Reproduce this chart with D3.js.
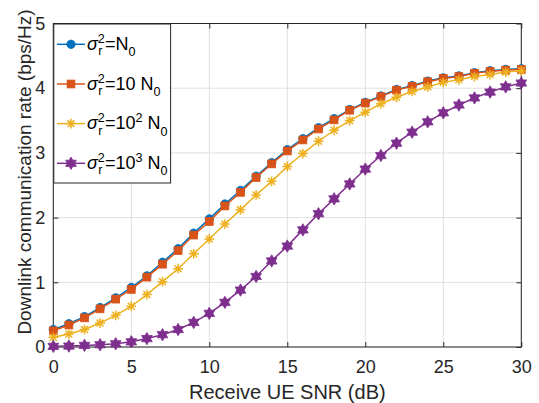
<!DOCTYPE html>
<html><head><meta charset="utf-8">
<script src="https://cdn.jsdelivr.net/npm/d3@7"></script>
<style>html,body{margin:0;padding:0;background:#fff;} svg{display:block;font-family:"Liberation Sans",Arial,Helvetica,sans-serif;}</style>
</head><body><svg id="c" width="539" height="403"></svg>
<script>
const snrDb = [0,1,2,3,4,5,6,7,8,9,10,11,12,13,14,15,16,17,18,19,20,21,22,23,24,25,26,27,28,29,30];
const rateN0 = [0.27,0.36,0.47,0.61,0.76,0.92,1.10,1.31,1.52,1.76,1.98,2.21,2.42,2.64,2.85,3.05,3.22,3.39,3.53,3.67,3.78,3.88,3.98,4.04,4.11,4.16,4.19,4.24,4.27,4.29,4.30];
const rate10N0 = [0.25,0.34,0.45,0.59,0.74,0.89,1.08,1.28,1.49,1.73,1.94,2.18,2.39,2.62,2.83,3.03,3.20,3.37,3.51,3.66,3.77,3.87,3.97,4.03,4.10,4.15,4.18,4.23,4.26,4.28,4.29];
const rate100N0 = [0.15,0.20,0.27,0.37,0.49,0.63,0.81,1.01,1.21,1.44,1.67,1.90,2.12,2.35,2.56,2.79,2.99,3.18,3.35,3.50,3.63,3.76,3.86,3.95,4.02,4.09,4.13,4.18,4.21,4.25,4.27];
const rate1000N0 = [0.01,0.015,0.025,0.035,0.05,0.08,0.13,0.19,0.27,0.38,0.52,0.69,0.88,1.09,1.33,1.56,1.81,2.06,2.29,2.52,2.75,2.96,3.15,3.32,3.48,3.62,3.74,3.85,3.94,4.02,4.08];
const xTicks = [0,5,10,15,20,25,30];
const yTicks = [0,1,2,3,4,5];
const seriesColors = ["#0072BD","#D95319","#EDB120","#7E2F8E"];
const seriesMarkers = ["circle","square","asterisk","hexagram"];
const xLabel = "Receive UE SNR (dB)";
const yLabel = "Downlink communication rate (bps/Hz)";
// legend label pieces: [kind, text]
const legendLabels = [
  [["it","σ"],["stack","2","r"],["n","=N"],["sub","0"]],
  [["it","σ"],["stack","2","r"],["n","=10\u00A0N"],["sub","0"]],
  [["it","σ"],["stack","2","r"],["n","=10"],["sup","2"],["n","\u00A0N"],["sub","0"]],
  [["it","σ"],["stack","2","r"],["n","=10"],["sup","3"],["n","\u00A0N"],["sub","0"]]
];

const series = [rateN0, rate10N0, rate100N0, rate1000N0];
const axisColor = "#262626";
const svg = d3.select("#c");
const L = 53.3, R = 521.3, T = 23.5, B = 347;
const x = d3.scaleLinear().domain([0,30]).range([L,R]);
const y = d3.scaleLinear().domain([0,5]).range([B,T]);
const fmt = d3.format("d");

// grid
const grid = svg.append("g").attr("stroke","#e0e0e0").attr("stroke-width",1);
grid.selectAll("line.v").data(xTicks).enter().append("line")
  .attr("x1",d=>x(d)).attr("x2",d=>x(d)).attr("y1",T).attr("y2",B);
grid.selectAll("line.h").data(yTicks).enter().append("line")
  .attr("y1",d=>y(d)).attr("y2",d=>y(d)).attr("x1",L).attr("x2",R);

function styleAxis(g){
  g.select(".domain").remove();
  g.selectAll(".tick line").attr("stroke",axisColor);
  g.selectAll(".tick text").attr("fill",axisColor).attr("font-size",18)
   .attr("font-family",'"Liberation Sans",Arial,Helvetica,sans-serif');
}
svg.append("g").attr("transform",`translate(0,${B})`)
  .call(d3.axisBottom(x).tickValues(xTicks).tickFormat(fmt).tickSizeInner(-5).tickSizeOuter(0).tickPadding(13))
  .call(styleAxis);
svg.append("g").attr("transform",`translate(0,${T})`)
  .call(d3.axisTop(x).tickValues(xTicks).tickSizeInner(-5).tickSizeOuter(0).tickFormat(""))
  .call(styleAxis);
svg.append("g").attr("transform",`translate(${L},0)`)
  .call(d3.axisLeft(y).tickValues(yTicks).tickFormat(fmt).tickSizeInner(-5).tickSizeOuter(0).tickPadding(8))
  .call(styleAxis);
svg.append("g").attr("transform",`translate(${R},0)`)
  .call(d3.axisRight(y).tickValues(yTicks).tickSizeInner(-5).tickSizeOuter(0).tickFormat(""))
  .call(styleAxis);
svg.append("rect").attr("x",L).attr("y",T).attr("width",R-L).attr("height",B-T)
  .attr("fill","none").attr("stroke",axisColor).attr("stroke-width",1);

// markers
function asteriskPath(r){const a=r*0.7071;return `M${-r},0L${r},0M0,${-r}L0,${r}M${-a},${-a}L${a},${a}M${-a},${a}L${a},${-a}`;}
function hexagramPath(Rr){const ri=Rr/Math.sqrt(3);let p="";for(let i=0;i<12;i++){const ang=-Math.PI/2+i*Math.PI/6;const rr=i%2?ri:Rr;p+=(i?"L":"M")+(rr*Math.cos(ang)).toFixed(2)+","+(rr*Math.sin(ang)).toFixed(2);}return p+"Z";}
function drawMarker(g, kind, color){
  if(kind==="circle") g.append("circle").attr("r",4.2).attr("fill",color).attr("stroke",color).attr("stroke-width",0.8);
  else if(kind==="square") g.append("rect").attr("x",-3.9).attr("y",-3.9).attr("width",7.8).attr("height",7.8).attr("fill",color).attr("stroke",color).attr("stroke-width",0.8);
  else if(kind==="asterisk") g.append("path").attr("d",asteriskPath(4.9)).attr("fill","none").attr("stroke",color).attr("stroke-width",1.5);
  else g.append("path").attr("d",hexagramPath(6.2)).attr("fill",color).attr("stroke",color).attr("stroke-width",0.8).attr("stroke-linejoin","round");
}

const line = d3.line().x((d,i)=>x(snrDb[i])).y(d=>y(d));
series.forEach((s,k)=>{
  const g = svg.append("g");
  g.append("path").attr("d",line(s)).attr("fill","none").attr("stroke",seriesColors[k]).attr("stroke-width",1.5);
  s.forEach((v,i)=>{
    const mg = g.append("g").attr("transform",`translate(${x(snrDb[i])},${y(v)})`);
    drawMarker(mg, seriesMarkers[k], seriesColors[k]);
  });
});

// axis labels
svg.append("text").attr("x",(L+R)/2).attr("y",399).attr("text-anchor","middle")
  .attr("font-size",20).attr("fill",axisColor).text(xLabel);
svg.append("text").attr("transform","translate(31,172) rotate(-90)").attr("text-anchor","middle")
  .attr("font-size",19).attr("fill",axisColor).text(yLabel);

// legend
const lg = svg.append("g");
lg.append("rect").attr("x",53.8).attr("y",24).attr("width",116.8).attr("height",159)
  .attr("fill","#fff").attr("stroke",axisColor).attr("stroke-width",1);
const rowY = [44.3,84,123.6,163.3];
legendLabels.forEach((parts,k)=>{
  const cy = rowY[k];
  lg.append("line").attr("x1",57).attr("x2",85).attr("y1",cy).attr("y2",cy)
    .attr("stroke",seriesColors[k]).attr("stroke-width",1.5);
  drawMarker(lg.append("g").attr("transform",`translate(71,${cy})`), seriesMarkers[k], seriesColors[k]);
  let cx = 87;
  const main = 18, small = 12.6;
  const add = (t, xx, yy, fs, it)=>{
    const el = lg.append("text").attr("x",xx).attr("y",yy).attr("font-size",fs).attr("fill","#000").text(t);
    if(it) el.attr("font-style","italic");
    return el.node().getComputedTextLength();
  };
  parts.forEach(p=>{
    if(p[0]==="it") cx += add(p[1], cx, cy+5.5, main, true);
    else if(p[0]==="n") cx += add(p[1], cx, cy+5.5, main, false);
    else if(p[0]==="sup") cx += add(p[1], cx, cy-1.5, small, false);
    else if(p[0]==="sub") cx += add(p[1], cx, cy+12, small, false);
    else if(p[0]==="stack"){
      const w1 = add(p[1], cx, cy-1.5, small, false);
      const w2 = add(p[2], cx+0.5, cy+11, small, false);
      cx += Math.max(w1, w2+0.5);
    }
  });
});
</script></body></html>
